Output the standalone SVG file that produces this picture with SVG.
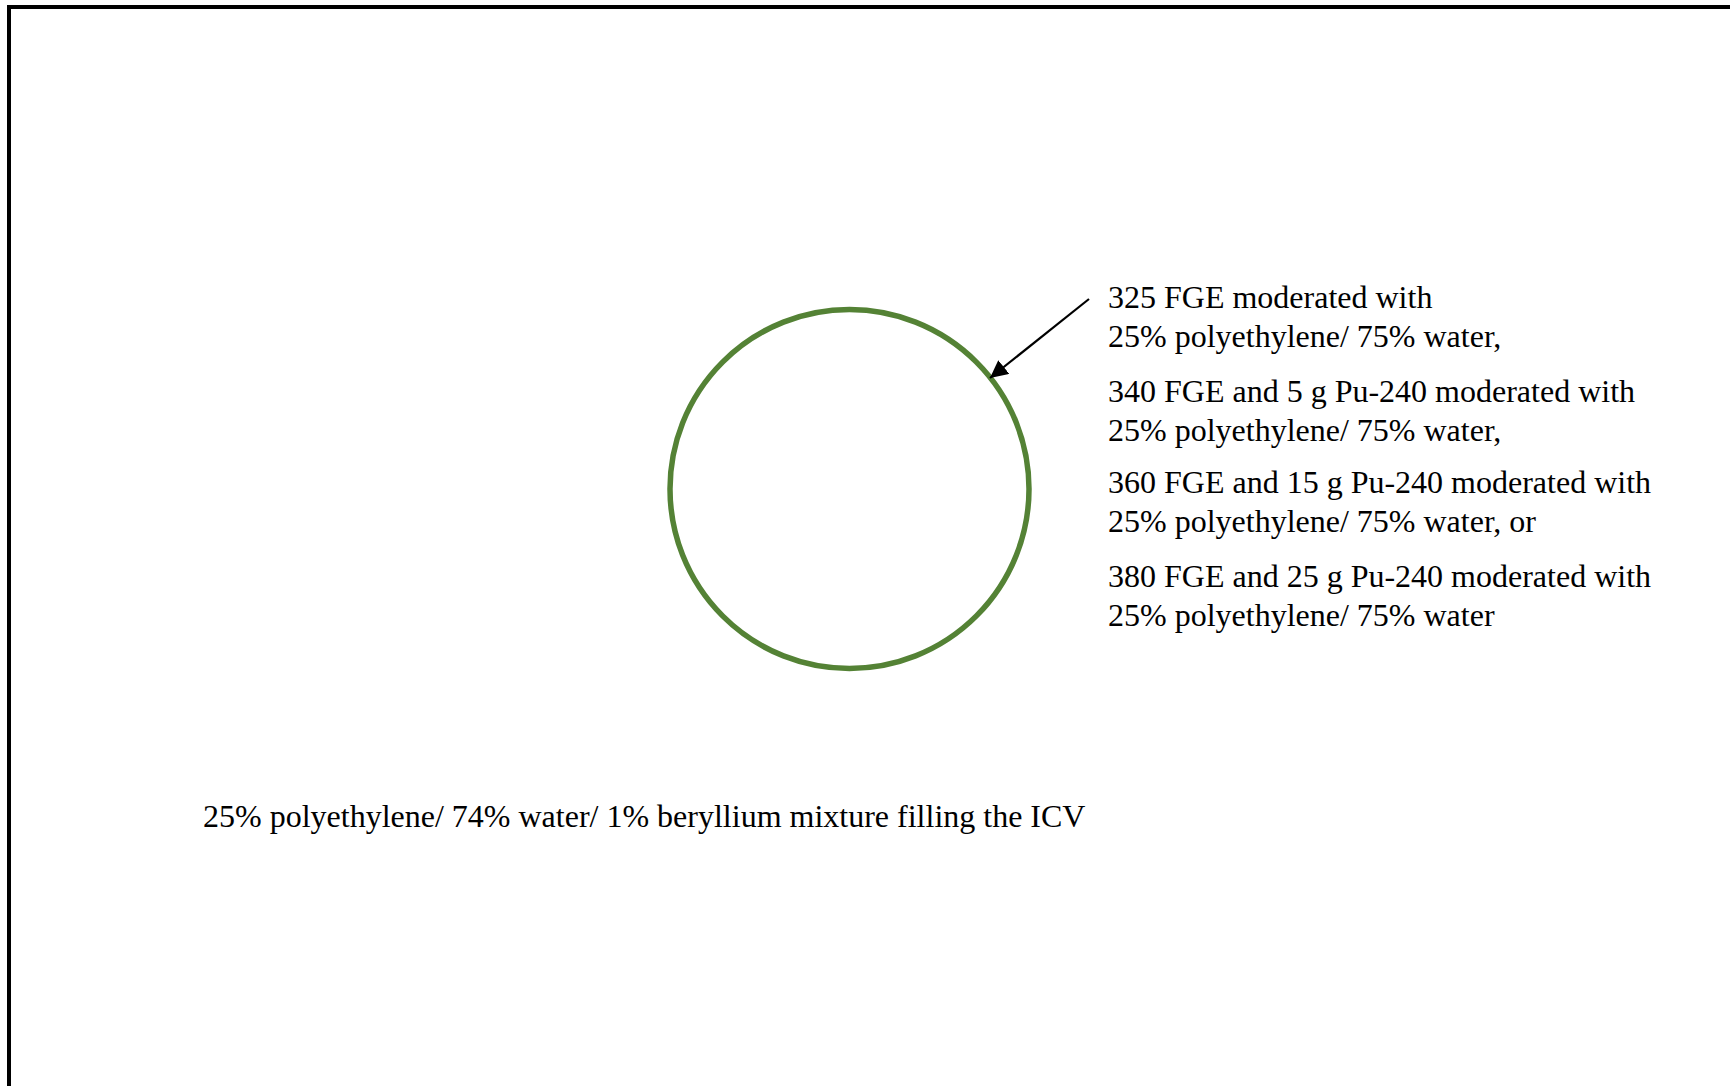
<svg xmlns="http://www.w3.org/2000/svg" width="1730" height="1086" viewBox="0 0 1730 1086">
<style>
text{font-family:"Liberation Serif","Times New Roman",serif;font-size:32px;fill:#000}
</style>
<defs>
<marker id="ah" viewBox="0 0 10 10" refX="10" refY="5" markerWidth="8" markerHeight="8" markerUnits="strokeWidth" orient="auto">
<path d="M0,0 L10,5 L0,10 z" fill="#000"/>
</marker>
</defs>
<rect x="0" y="0" width="1730" height="1086" fill="#fff"/>
<g id="border"><path d="M9,1090 V7 H1734" fill="none" stroke="#000" stroke-width="4"/></g>
<g id="sphere"><circle cx="849.5" cy="489" r="179.5" fill="none" stroke="#548235" stroke-width="5.5"/></g>
<g id="connectors"><line x1="1089" y1="299" x2="990" y2="378" stroke="#000" stroke-width="2.2" marker-end="url(#ah)"/></g>
<g id="label-right">
<text x="1108" y="308">325 FGE moderated with</text>
<text x="1108" y="346.5">25% polyethylene/ 75% water,</text>
<text x="1108" y="402">340 FGE and 5 g Pu-240 moderated with</text>
<text x="1108" y="440.5">25% polyethylene/ 75% water,</text>
<text x="1108" y="493">360 FGE and 15 g Pu-240 moderated with</text>
<text x="1108" y="531.5">25% polyethylene/ 75% water, or</text>
<text x="1108" y="587">380 FGE and 25 g Pu-240 moderated with</text>
<text x="1108" y="625.5">25% polyethylene/ 75% water</text>
</g>
<g id="label-bottom"><text x="203" y="827">25% polyethylene/ 74% water/ 1% beryllium mixture filling the ICV</text></g>
</svg>
